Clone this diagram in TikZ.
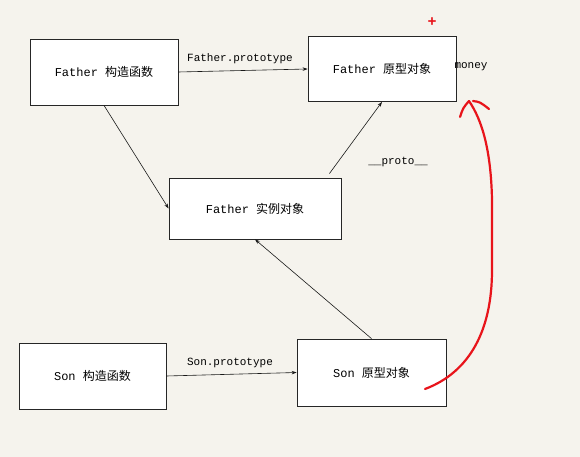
\documentclass[tikz,border=0pt]{standalone}
\usepackage{fontspec}
\setmainfont{Liberation Mono}
\newfontfamily\cjk{Noto Sans CJK SC}
\usepackage{xcolor}
\usetikzlibrary{arrows.meta, calc}
\definecolor{paper}{HTML}{F5F3ED}
\definecolor{marker}{HTML}{E8141B}
\tikzset{
    box/.style={draw=black!85, line width=0.8pt, fill=white, minimum width=148pt, minimum height=66pt, inner sep=0pt, font=\fontsize{12}{14}\selectfont},
    link/.style={-{Stealth[length=5pt, width=3.5pt]}, draw=black!90, line width=0.6pt},
    tag/.style={font=\fontsize{11}{13}\selectfont, inner sep=0pt},
    pen/.style={draw=marker, line width=2.2pt, line cap=round, line join=round}
}

\begin{document}
\begin{tikzpicture}[x=1pt, y=-1pt]
    \fill[paper] (0,0) rectangle (580,457);
    \useasboundingbox (0,0) rectangle (580,457);
    \node[box] (fctor) at (104,72) {Father {\cjk 构造函数}};
    \node[box, minimum height=65pt] (fproto) at (382,69) {Father {\cjk 原型对象}};
    \node[box, minimum width=172pt, minimum height=61pt] (finst) at (255,208.5) {Father {\cjk 实例对象}};
    \node[box, minimum width=147pt] (sctor) at (92.5,376) {Son {\cjk 构造函数}};
    \node[box, minimum width=149pt, minimum height=67pt] (sproto) at (371.5,372.5) {Son {\cjk 原型对象}};
    \draw[link] (fctor.east) -- (fproto.west);
    \draw[link] (fctor.south) -- (finst.west);
    \draw[link] ([xshift=-12pt, yshift=4pt]finst.north east) -- (fproto.south);
    \draw[link] (sproto.north) -- (finst.south);
    \draw[link] (sctor.east) -- (sproto.west);
    \node[tag] (fplabel) at (240,59) {Father.prototype};
    \node[tag] (splabel) at (230,363) {Son.prototype};
    \node[tag] (protolabel) at (398,162) {\_\_proto\_\_};
    \node[tag] (money) at (471,67) {money};
    \node[text=marker, font=\fontsize{15}{15}\selectfont\bfseries, inner sep=0pt] (plus) at (432,22) {+};
    % red pen stroke
    \coordinate (penstart) at (425,389);
    \coordinate (pentip) at (469,101);
    \draw[pen] (penstart) .. controls (470,372) and (492,330) .. (492,270) -- (492,200) .. controls (491,150) and (482,120) .. (pentip);
    \draw[pen] (460,117) .. controls (463,108) .. (pentip);
    \draw[pen] (473,101) .. controls (480,102) .. (489,109);
\end{tikzpicture}
\end{document}
